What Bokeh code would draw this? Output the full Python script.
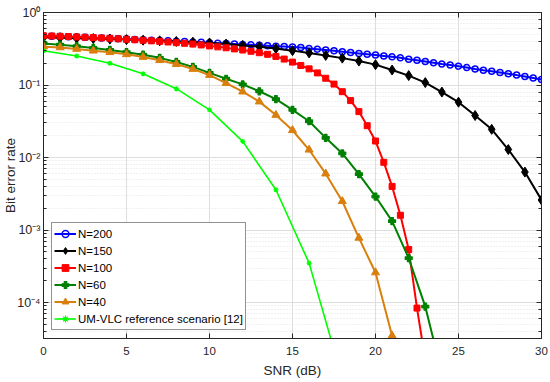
import math
from bokeh.plotting import figure
from bokeh.models import LogAxis, LinearAxis, CustomJSTickFormatter, FixedTicker
from bokeh.embed import file_html
from bokeh.resources import INLINE

# ---------------- data ----------------
snr_half = [i * 0.5 for i in range(61)]          # 0 .. 30 step 0.5
snr_one = list(range(31))                        # 0 .. 30 step 1
snr_two = list(range(0, 19, 2))                  # 0 .. 18 step 2

ber_n200 = [0.474, 0.470, 0.466, 0.462, 0.458, 0.454, 0.449, 0.445, 0.440, 0.435,
            0.430, 0.426, 0.421, 0.416, 0.412, 0.407, 0.402, 0.397, 0.392, 0.388,
            0.383, 0.378, 0.373, 0.368, 0.363, 0.358, 0.353, 0.348, 0.343, 0.339,
            0.335, 0.328, 0.320, 0.312, 0.304, 0.296, 0.288, 0.280, 0.273, 0.266,
            0.259, 0.252, 0.245, 0.237, 0.227, 0.219, 0.211, 0.203, 0.195, 0.189,
            0.182, 0.174, 0.166, 0.160, 0.155, 0.149, 0.143, 0.137, 0.131, 0.125,
            0.119]

ber_n150 = [0.455, 0.449, 0.443, 0.437, 0.430, 0.423, 0.415, 0.407, 0.399, 0.390,
            0.380, 0.367, 0.352, 0.338, 0.318, 0.298, 0.277, 0.256, 0.235, 0.214,
            0.191, 0.161, 0.135, 0.108, 0.080, 0.058, 0.038, 0.0245, 0.0129, 0.0063,
            0.0026]

ber_n100 = [0.478, 0.474, 0.470, 0.466, 0.461, 0.456, 0.451, 0.446, 0.440, 0.434,
            0.427, 0.421, 0.414, 0.407, 0.400, 0.392, 0.384, 0.376, 0.367, 0.357,
            0.346, 0.336, 0.326, 0.315, 0.304, 0.292, 0.279, 0.265, 0.248, 0.228,
            0.207, 0.186, 0.167, 0.147, 0.124, 0.103, 0.081, 0.061, 0.043, 0.0275,
            0.0169, 0.0086, 0.0040, 0.0016, 0.00054, 0.000084, 0.000016]

ber_n60 = [0.375, 0.360, 0.343, 0.325, 0.305, 0.284, 0.262, 0.237, 0.208, 0.178,
           0.147, 0.122, 0.102, 0.082, 0.064, 0.0455, 0.0317, 0.0187, 0.0114, 0.0059,
           0.0029, 0.00133, 0.00041, 0.000088, 0.0000105]

ber_n40 = [0.338, 0.330, 0.314, 0.297, 0.283, 0.265, 0.243, 0.220, 0.194, 0.166,
           0.137, 0.106, 0.081, 0.059, 0.0386, 0.0238, 0.0128, 0.0060, 0.0025, 0.00078,
           0.00026, 0.000035]

ber_ref = [0.297, 0.251, 0.200, 0.143, 0.089, 0.0455, 0.0167, 0.0036, 0.00035, 0.0000089]

x_ticks = [0, 5, 10, 15, 20, 25, 30]
legend_labels = ["N=200", "N=150", "N=100", "N=60", "N=40", "UM-VLC reference scenario [12]"]

FONT = "Liberation Sans"
AX = "#262626"

p = figure(frame_width=498, frame_height=326,
           x_range=(0, 30), y_range=(3.2e-5, 1), y_axis_type="log",
           output_backend="svg", toolbar_location=None,
           min_border_left=43, min_border_right=9, min_border_top=12, min_border_bottom=44,
           background_fill_color="white", border_fill_color="white")
p.outline_line_color = AX
p.outline_line_width = 1

# axes
xa = p.xaxis[0]
xa.ticker = FixedTicker(ticks=x_ticks)
xa.axis_label = "SNR (dB)"
xa.axis_label_standoff = 5
xa.major_label_standoff = 8
ya = p.yaxis[0]
ya.axis_label = "Bit error rate"
ya.axis_label_standoff = -4
ya.major_label_standoff = 3
ya.formatter = CustomJSTickFormatter(code="""
const e = Math.round(Math.log10(tick));
const sup = {'-':'\u207b','0':'\u2070','1':'\u00b9','2':'\u00b2','3':'\u00b3','4':'\u2074','5':'\u2075','6':'\u2076','7':'\u2077','8':'\u2078','9':'\u2079'};
return '10' + String(e).split('').map(c => sup[c]).join('');
""")
for ax in (xa, ya):
    ax.axis_label_text_font = FONT
    ax.axis_label_text_font_style = "normal"
    ax.axis_label_text_font_size = "13.5px"
    ax.axis_label_text_color = AX
    ax.major_label_text_font = FONT
    ax.major_label_text_color = AX
    ax.axis_line_color = AX
    ax.major_tick_line_color = AX
    ax.minor_tick_line_color = AX
    ax.major_tick_in = 5
    ax.major_tick_out = 0
    ax.minor_tick_in = 3
    ax.minor_tick_out = 0
xa.major_label_text_font_size = "11.5px"
ya.major_label_text_font_size = "12.5px"
xa.minor_tick_line_color = None

top = LinearAxis(ticker=FixedTicker(ticks=x_ticks), formatter=CustomJSTickFormatter(code="return ' ';"),
                 major_label_text_font_size="1px", major_label_text_alpha=0,
                 major_label_standoff=0, axis_line_color=AX, major_tick_line_color=AX,
                 minor_tick_line_color=None, major_tick_in=5, major_tick_out=0)
p.add_layout(top, "above")
right = LogAxis(formatter=CustomJSTickFormatter(code="return ' ';"),
                major_label_text_font_size="1px", major_label_text_alpha=0,
                major_label_standoff=0,
                axis_line_color=AX, major_tick_line_color=AX, minor_tick_line_color=AX,
                major_tick_in=5, major_tick_out=0, minor_tick_in=3, minor_tick_out=0)
p.add_layout(right, "right")

# grid
p.xgrid.ticker = FixedTicker(ticks=x_ticks)
p.xgrid.grid_line_color = "#dedede"
p.ygrid.grid_line_color = "#dedede"
p.ygrid.minor_grid_line_color = "#e2e2e2"
p.ygrid.minor_grid_line_dash = "1 2"

series = [
    (snr_half, ber_n200, "#0000ff", "circle", 6, legend_labels[0]),
    (snr_one, ber_n150, "#000000", "diamond", 10, legend_labels[1]),
    (snr_half[:len(ber_n100)], ber_n100, "#ff0000", "square", 6, legend_labels[2]),
    (snr_one[:len(ber_n60)], ber_n60, "#008000", "plus", 7, legend_labels[3]),
    (snr_one[:len(ber_n40)], ber_n40, "#d97f0d", "triangle", 8, legend_labels[4]),
    (snr_two, ber_ref, "#00ff00", "asterisk", 5, legend_labels[5]),
]
for xs, ys, col, mk, sz, lab in series:
    lw = 1.6 if mk == "asterisk" else 2
    p.line(xs, ys, line_color=col, line_width=lw, legend_label=lab)
    if mk == "circle":
        p.scatter(xs, ys, marker=mk, size=sz, line_color=col, fill_color=None,
                  line_width=1.5, legend_label=lab)
    elif mk in ("plus", "asterisk"):
        p.scatter(xs, ys, marker=mk, size=sz, line_color=col, fill_color=col,
                  line_width=1.2, legend_label=lab)
    else:
        p.scatter(xs, ys, marker=mk, size=sz, line_color=col, fill_color=col,
                  line_width=1, legend_label=lab)

lg = p.legend[0]
lg.location = "bottom_left"
lg.margin = 8
lg.padding = 2
lg.spacing = 0
lg.label_height = 17
lg.glyph_height = 17
lg.glyph_width = 22
lg.label_standoff = 2
lg.label_text_font = FONT
lg.label_text_font_size = "11.5px"
lg.label_text_color = "#000000"
lg.border_line_color = AX
lg.border_line_width = 1
lg.background_fill_alpha = 1

open("out.html", "w").write(file_html(p, INLINE))
